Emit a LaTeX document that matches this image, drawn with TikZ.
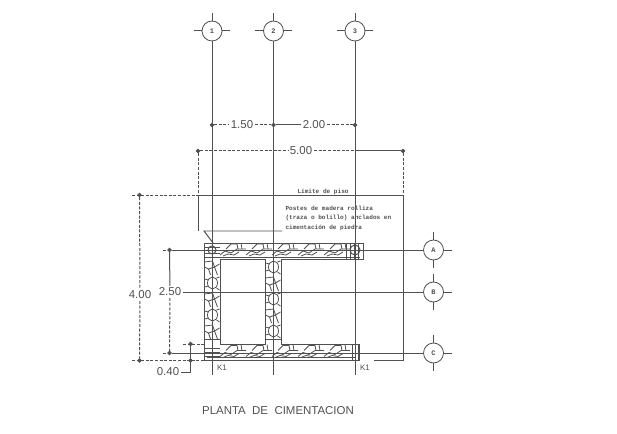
\documentclass[tikz,border=0pt]{standalone}
\usepackage{fontspec}
\setmainfont{Liberation Sans}
\newfontfamily\cadfont{Liberation Mono}
\usetikzlibrary{positioning,calc,arrows.meta}
\definecolor{cadgray}{RGB}{80,80,80}

\begin{document}
\begin{tikzpicture}[
    x=1bp, y=-1bp,
    every path/.style={draw=cadgray, line width=1pt},
    every node/.style={text=cadgray},
    axiscircle/.style={circle, draw=cadgray, line width=0.8pt, fill=white, minimum size=20bp, inner sep=0pt, font=\cadfont\fontsize{7}{7}\selectfont\bfseries},
    dimdot/.style={circle, draw=cadgray, fill=cadgray, minimum size=3.5bp, inner sep=0pt},
    dimtext/.style={font=\fontsize{11.5}{12}\selectfont, inner sep=1.5bp},
    notetext/.style={align=left, inner sep=0pt, anchor=north west, font=\cadfont\fontsize{6.1}{9.5}\selectfont\bfseries},
    dimdash/.style={dashed, dash pattern=on 3bp off 1.6bp},
    rockline/.style={line width=0.8pt},
    bandrock/.pic={
        \draw[rockline] (6,6) -- (11,1) -- (17,1) -- (18,6);
        \draw[rockline] (0,12) -- (5,8) -- (11,10) -- (17,6) -- (26,6);
        \draw[rockline] (3,13) -- (8,11) -- (14,12) -- (19,9);
        \draw[rockline] (21,0) -- (22,6);
    },
    colrocka/.pic={
        \draw[rockline] (0,3) -- (8,2) -- (10,8) -- (4,10) -- (0,8);
        \draw[rockline] (10,8) -- (15,5);
        \draw[rockline] (4,10) -- (6,16);
        \draw[rockline] (10,8) -- (13,16);
    },
    colrockb/.pic={
        \draw[rockline] (8,8) ellipse (5 and 6);
        \draw[rockline] (0,4) -- (4,5);
        \draw[rockline] (0,12) -- (4,11);
        \draw[rockline] (12,3) -- (15,2);
        \draw[rockline] (12,13) -- (15,15);
    }
]
\useasboundingbox[draw=none] (0,0) rectangle (617,434);

% Axis heads
\node[axiscircle] (ax1) at (212,31) {1};
\node[axiscircle] (ax2) at (273.5,31) {2};
\node[axiscircle] (ax3) at (355,31) {3};
\node[axiscircle] (axA) at (433.5,250) {A};
\node[axiscircle] (axB) at (433.5,292) {B};
\node[axiscircle] (axC) at (433.5,353) {C};

% Dimension points
\node[dimdot] (d1) at (212,125) {};
\node[dimdot] (d2) at (273.5,125) {};
\node[dimdot] (d3) at (355,125) {};
\node[dimdot] (e1) at (198,151) {};
\node[dimdot] (e2) at (403,151) {};
\node[dimdot] (f1) at (139.5,195) {};
\node[dimdot] (f2) at (139.5,360.5) {};
\node[dimdot] (g1) at (169.5,250) {};
\node[dimdot] (g2) at (169.5,353) {};
\node[dimdot] (h1) at (190.5,344) {};
\node[dimdot] (h2) at (190.5,360.5) {};

% Dimension texts
\node[dimtext] (t150) at (242,125) {1.50};
\node[dimtext] (t200) at (314,125) {2.00};
\node[dimtext] (t500) at (301,151) {5.00};
\node[dimtext] (t400) at (140,295) {4.00};
\node[dimtext] (t250) at (170,292) {2.50};
\node[dimtext] (t040) at (168,372) {0.40};

% Free ends
\coordinate (b1) at (198,195);
\coordinate (b2) at (403,195);
\coordinate (b3) at (198,231);
\coordinate (b4) at (403,360);
\coordinate (b5) at (374,360);
\coordinate (s1) at (212,375);
\coordinate (s2) at (273.5,375);
\coordinate (s3) at (355,375);
\coordinate (e3) at (355,151);
\coordinate (fa) at (132,195);
\coordinate (fb) at (132,360.5);
\coordinate (ga) at (163,250);
\coordinate (gb) at (163,353);
\coordinate (ha) at (183,344);
\coordinate (wall1) at (204,344);
\coordinate (wall2) at (204,353);
\coordinate (wall3) at (204,360.5);
\coordinate (h3) at (190.5,372);
\coordinate (l1) at (204,231);
\coordinate (l2) at (282,231);
\coordinate (l3) at (213,243);

% Foundation
\draw[fill=white] (204,243) -- (363,243) -- (363,259.5) -- (281,259.5) -- (281,344) -- (359,344) -- (359,360.5) -- (204,360.5) -- cycle;
\draw[fill=white] (220,259.5) rectangle (265.5,344);
\draw (220,257) -- (360,257);
\draw (207,357.5) -- (356,357.5);
\foreach \xx in {220,246,272,298,324} {
    \pic at (\xx,243) {bandrock};
    \pic at (\xx,344.5) {bandrock};
}
\foreach \yy/\rk in {259/colrocka,275/colrockb,291/colrocka,307/colrockb,323/colrocka} {
    \pic at (204.5,\yy) {\rk};
}
\foreach \yy/\rk in {259/colrockb,275/colrocka,291/colrockb,307/colrocka,323/colrockb} {
    \pic at (265.5,\yy) {\rk};
}
\draw (204,339) -- (220,339);
\draw (265.5,339) -- (281,339);
\foreach \yy in {247,253,257} { \draw (204,\yy) -- (220,\yy); }
\foreach \yy in {348,352,356} { \draw (204,\yy) -- (220,\yy); }
\foreach \xx in {346,350,354,358} { \draw (\xx,244) -- (\xx,259); }
\foreach \xx in {352,355,358} { \draw (\xx,345) -- (\xx,360); }
\draw (355,250) circle (5);
\draw (212,250) circle (4);

% Axis lines
\draw (ax1) -- (s1);
\draw (ax2) -- (s2);
\draw (ax3) -- (s3);
\draw (g1) -- (axA);
\draw (t250) -- (axB);
\draw (g2) -- (axC);

% Axis ticks
\foreach \n in {ax1,ax2,ax3,axA,axB,axC} {
    \draw (\n.north) -- ++(0,-8);
    \draw (\n.south) -- ++(0,8);
    \draw (\n.west) -- ++(-8,0);
    \draw (\n.east) -- ++(8,0);
}

% Dimensions
\draw[dimdash] (d1) -- (t150);
\draw[dimdash] (t150) -- (d2);
\draw (d2) -- (t200);
\draw[dimdash] (t200) -- (d3);
\draw[dimdash] (e1) -- (t500);
\draw[dimdash] (t500) -- (e3);
\draw (e3) -- (e2);
\draw[dimdash] (e1) -- (b1);
\draw[dimdash] (e2) -- (b2);
\draw[dimdash] (f1) -- (t400);
\draw[dimdash] (t400) -- (f2);
\draw (g1) -- (t250);
\draw[dimdash] (t250) -- (g2);
\draw (h1) -- (h3);
\draw (h3) -- (t040);

% Extension lines
\draw[dimdash] (fa) -- (b1);
\draw[dimdash] (fb) -- (wall3);
\draw[dimdash] (ga) -- (g1);
\draw[dimdash] (gb) -- (wall2);
\draw[dimdash] (ha) -- (wall1);

% Floor limit
\draw (b1) -- (b2) -- (b4) -- (b5);
\draw (b1) -- (b3);

% Note leader
\draw (l2) -- (l1) -- (l3);

% Notes
\node[notetext] (limite) at (297,188.5) {Límite de piso};
\node[notetext] (postes) at (285,205.5) {Postes de madera rolliza\\(traza o bolillo) anclados en\\cimentación de piedra};
\node[font=\fontsize{8}{8}\selectfont, inner sep=0pt] (k1a) at (222,368) {K1};
\node[font=\fontsize{8}{8}\selectfont, inner sep=0pt] (k1b) at (365,368) {K1};
\node[font=\fontsize{11.5}{12}\selectfont, inner sep=0pt] (title) at (278,411) {PLANTA\ \ DE\ \ CIMENTACION};

\end{tikzpicture}
\end{document}
